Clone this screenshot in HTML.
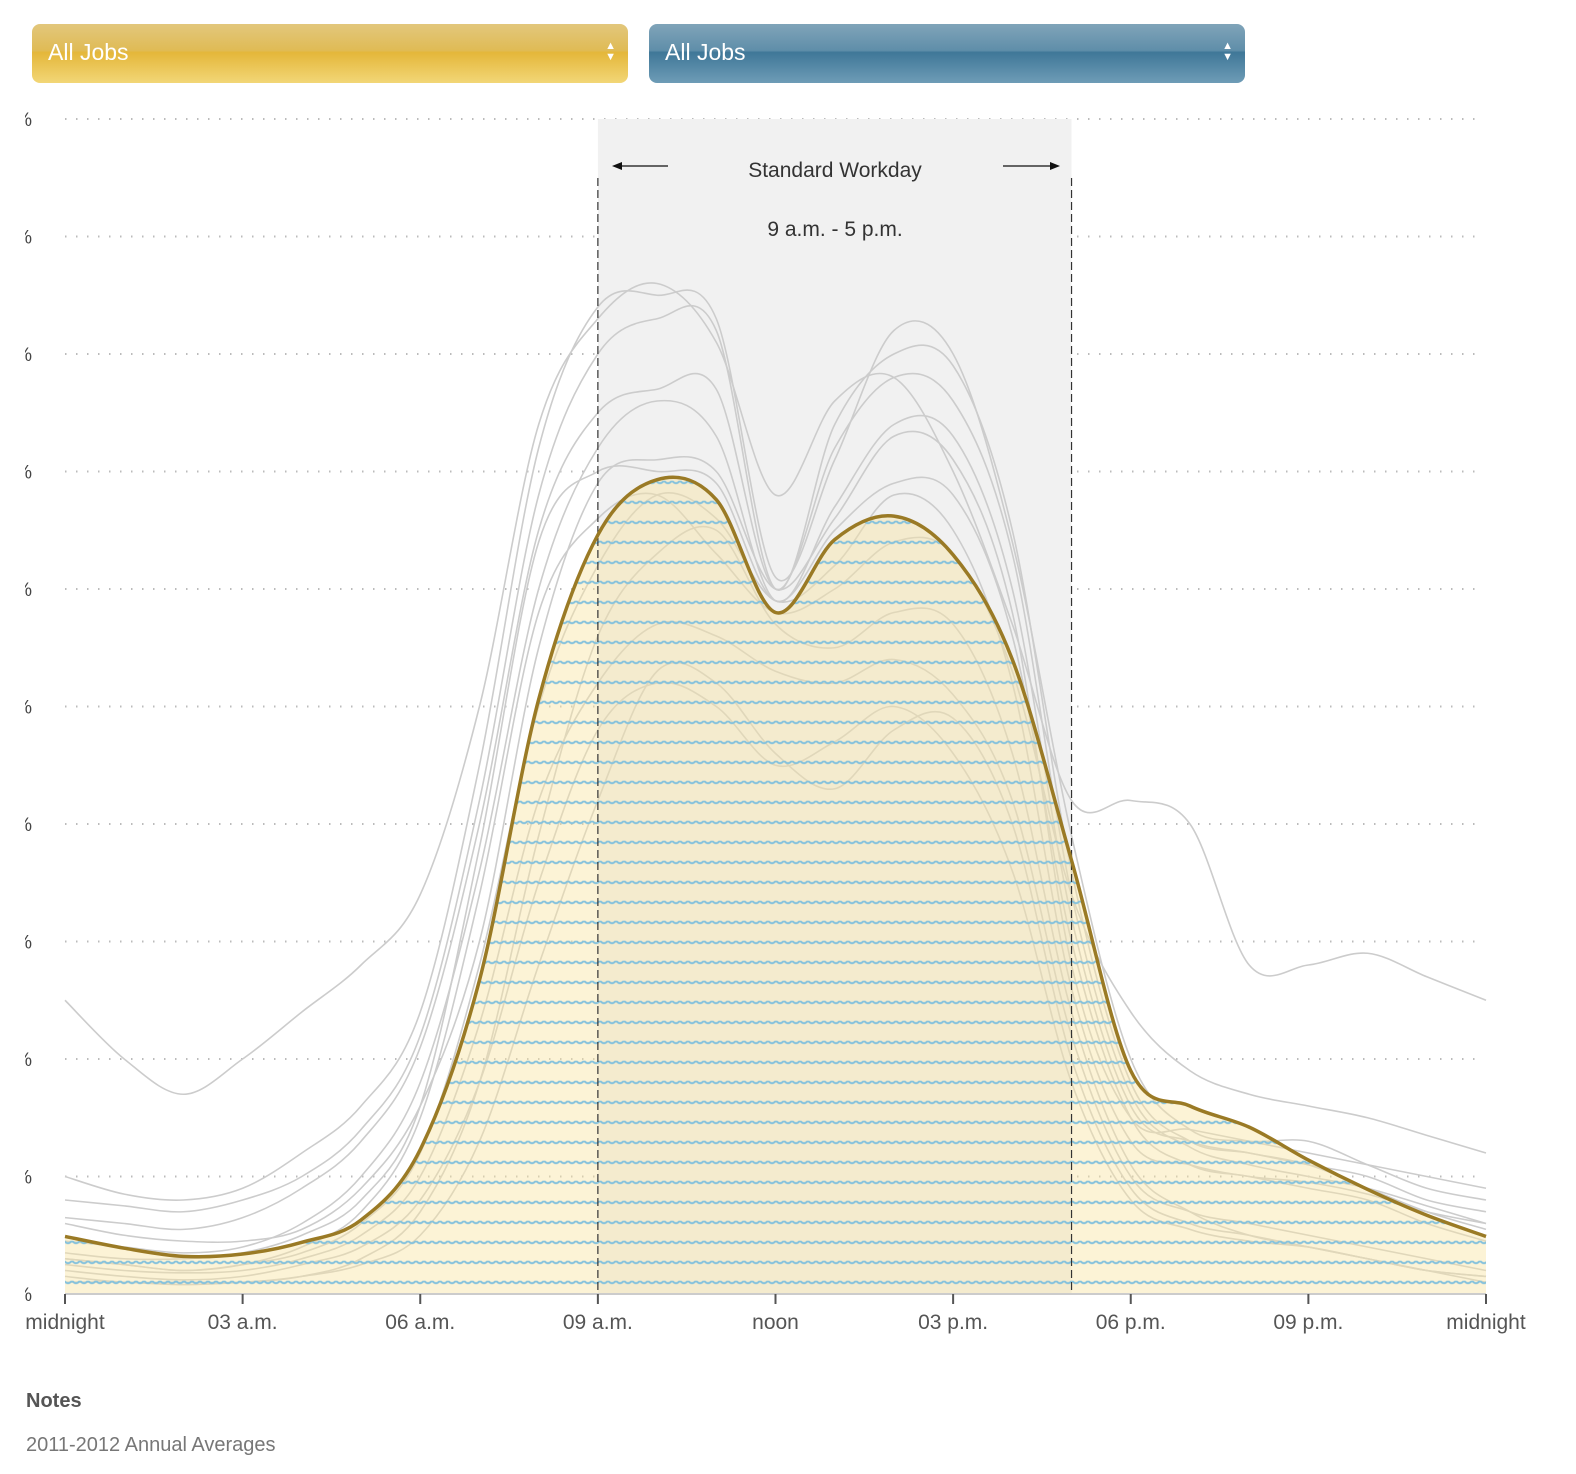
<!DOCTYPE html>
<html><head><meta charset="utf-8">
<style>
body{margin:0;background:#fff;width:1576px;height:1474px;overflow:hidden;font-family:"Liberation Sans",sans-serif;}
.dd{position:absolute;top:24px;height:59px;width:596px;border-radius:8px;color:#fff;font-size:23px;box-sizing:border-box;padding:15px 16px;}
#dd1{left:32px;background:linear-gradient(#e2c77c 0%,#e0bb55 45%,#e4b73a 48%,#f2d677 100%);}
#dd2{left:649px;background:linear-gradient(#80a4b9 0%,#5f8ea9 45%,#3f7798 48%,#6e9cb6 100%);}
.arr{position:absolute;right:12px;top:17px;font-size:11px;line-height:11px;}
</style></head><body>
<div id="dd1" class="dd">All Jobs<div class="arr">▲<br>▼</div></div>
<div id="dd2" class="dd">All Jobs<div class="arr">▲<br>▼</div></div>
<svg id="chart" width="1576" height="1474" style="position:absolute;left:0;top:0" xmlns="http://www.w3.org/2000/svg">
<defs>
<pattern id="waves" patternUnits="userSpaceOnUse" x="0" y="0.7" width="16" height="20">
<path d="M0 0 Q4 5 8 0 Q12 5 16 0" fill="none" stroke="#86c2dc" stroke-width="2"/>
</pattern>
<clipPath id="areaClip"><path id="clipPathEl"/></clipPath>
<clipPath id="leftClip"><rect x="25" y="0" width="1576" height="1474"/></clipPath>
</defs>
<g id="grid"></g>
<g id="ylabels" clip-path="url(#leftClip)"></g>
<rect id="band" fill="#f1f1f1"/>
<g id="gray"></g>
<path id="area" fill="rgba(248,228,165,0.45)"/>
<rect id="waveRect" x="0" y="0" width="1576" height="1474" fill="url(#waves)" clip-path="url(#areaClip)"/>
<g id="dashes"></g>
<path id="mainLine" fill="none" stroke="#9a7a25" stroke-width="3.5"/>
<g id="axis" clip-path="url(#leftClip)"></g>
<text x="835" y="177" text-anchor="middle" font-size="21" fill="#333">Standard Workday</text>
<text x="835" y="236" text-anchor="middle" font-size="21" fill="#333">9 a.m. - 5 p.m.</text>
<g><line x1="616" y1="166" x2="668" y2="166" stroke="#111" stroke-width="1.3"/><path d="M612 166 L622 162 L622 170 Z" fill="#111"/></g>
<g><line x1="1003" y1="166" x2="1055" y2="166" stroke="#111" stroke-width="1.3"/><path d="M1060 166 L1050 162 L1050 170 Z" fill="#111"/></g>
<text x="26" y="1407" font-size="20" font-weight="bold" fill="#555">Notes</text>
<text x="26" y="1451" font-size="20" fill="#777">2011-2012 Annual Averages</text>
</svg>
<script>
const hours=[0,1,2,3,4,5,6,7,8,9,10,11,12,13,14,15,16,17,18,19,20,21,22,23,24];
const yTicks=[0,1,2,3,4,5,6,7,8,9,10];
const xTickHours=[0,3,6,9,12,15,18,21,24];
const xTickLabels=["midnight","03 a.m.","06 a.m.","09 a.m.","noon","03 p.m.","06 p.m.","09 p.m.","midnight"];
const mainSeries=[0.49,0.39,0.32,0.34,0.44,0.63,1.23,2.67,5.06,6.46,6.93,6.76,5.8,6.42,6.62,6.29,5.4,3.69,1.9,1.6,1.42,1.14,0.89,0.67,0.49];
const g1=[2.5,2.0,1.7,2.0,2.4,2.8,3.4,5.0,7.4,8.3,8.6,8.1,6.8,7.6,7.8,7.0,5.7,4.2,4.2,4.0,2.8,2.8,2.9,2.7,2.5];
const g2=[1.0,0.85,0.8,0.9,1.2,1.6,2.4,4.5,7.2,8.4,8.5,8.3,6.1,7.1,8.2,8.0,6.4,3.9,2.0,1.4,1.3,1.3,1.1,0.9,0.8];
const g3=[0.8,0.75,0.7,0.8,1.0,1.4,2.2,4.2,6.8,8.0,8.3,8.2,6.0,7.4,8.0,7.9,6.5,3.6,1.8,1.3,1.2,1.1,1.0,0.8,0.7];
const g4=[0.65,0.6,0.55,0.65,0.9,1.3,2.1,4.0,6.5,7.5,7.7,7.7,6.0,7.2,7.8,7.6,6.3,3.4,1.7,1.25,1.1,1.0,0.9,0.75,0.6];
const g5=[0.45,0.4,0.35,0.4,0.6,1.0,1.8,3.6,6.0,7.2,7.6,7.3,5.9,6.7,7.4,7.3,6.0,3.2,1.6,1.3,1.2,1.1,0.9,0.7,0.55];
const g6=[0.35,0.3,0.3,0.35,0.5,0.8,1.6,3.8,6.4,7.0,7.0,6.9,5.9,6.5,6.9,6.8,5.6,3.0,1.5,1.1,1.0,0.9,0.8,0.6,0.45];
const g7=[0.6,0.5,0.45,0.45,0.55,0.9,1.6,3.0,5.5,6.9,7.1,7.0,6.0,6.6,7.3,7.1,5.8,2.8,1.5,1.4,1.3,1.2,1.1,1.0,0.9];
const g8=[0.3,0.25,0.2,0.25,0.35,0.6,1.2,2.8,5.0,6.2,6.8,6.6,5.9,6.2,6.8,6.5,5.2,2.6,1.3,1.1,1.0,0.95,0.85,0.7,0.6];
const g9=[0.25,0.2,0.18,0.2,0.3,0.5,1.0,2.3,4.2,5.2,5.7,5.6,5.3,5.2,5.4,5.1,4.2,2.2,1.0,0.7,0.6,0.5,0.4,0.3,0.2];
const g10=[0.2,0.15,0.12,0.15,0.25,0.4,0.8,1.8,3.5,4.8,5.2,5.0,4.5,4.7,5.0,4.6,3.6,1.8,0.8,0.55,0.45,0.4,0.3,0.2,0.15];
const g11=[0.15,0.1,0.1,0.1,0.15,0.25,0.5,1.3,2.8,4.2,5.3,5.2,4.6,4.3,4.8,4.9,4.0,2.0,0.9,0.6,0.5,0.4,0.3,0.2,0.1];
const g12=[0.3,0.25,0.2,0.25,0.4,0.7,1.5,3.4,5.8,6.6,6.8,6.3,5.8,6.0,6.4,6.3,5.3,3.4,2.4,1.9,1.7,1.6,1.5,1.35,1.2];
const g13=[0.1,0.1,0.08,0.1,0.15,0.3,0.7,1.8,3.9,5.6,6.3,6.5,5.7,5.5,5.8,5.7,4.6,2.4,1.1,0.7,0.5,0.4,0.3,0.2,0.15];
const grayList=[g1,g2,g3,g4,g5,g6,g7,g8,g9,g10,g11,g12,g13];

const X0=65,X1=1486,Y0=1294,DY=117.5;
const xs=h=>X0+(X1-X0)*h/24;
const ys=v=>Y0-v*DY;
const NS="http://www.w3.org/2000/svg";
function mk(tag,attrs,parent){const e=document.createElementNS(NS,tag);for(const k in attrs)e.setAttribute(k,attrs[k]);parent.appendChild(e);return e;}
function curve(vals){
  const p=vals.map((v,i)=>[xs(hours[i]),ys(v)]);
  let d="M"+p[0][0]+" "+p[0][1];
  for(let i=0;i<p.length-1;i++){
    const p0=p[Math.max(i-1,0)],p1=p[i],p2=p[i+1],p3=p[Math.min(i+2,p.length-1)];
    const c1=[p1[0]+(p2[0]-p0[0])/6,p1[1]+(p2[1]-p0[1])/6];
    const c2=[p2[0]-(p3[0]-p1[0])/6,p2[1]-(p3[1]-p1[1])/6];
    d+=` C${c1[0]} ${c1[1]} ${c2[0]} ${c2[1]} ${p2[0]} ${p2[1]}`;
  }
  return d;
}
const grid=document.getElementById('grid');
const ylabels=document.getElementById('ylabels');
yTicks.forEach(t=>{
  if(t>0){const l=mk('line',{x1:X0,x2:1478,y1:ys(t),y2:ys(t),stroke:'#bbb','stroke-width':2,'stroke-dasharray':'1.5 9.5'},grid);
  }
  const tx=mk('text',{x:32,y:ys(t)+7,'text-anchor':'end','font-size':19,fill:'#444'},ylabels);
  
  
  tx.textContent='%';
});
const band=document.getElementById('band');
band.setAttribute('x',xs(9));band.setAttribute('width',xs(17)-xs(9));band.setAttribute('y',ys(10));band.setAttribute('height',Y0-ys(10));
const gray=document.getElementById('gray');
grayList.forEach(s=>{const p=mk('path',{d:curve(s),fill:'none',stroke:'#ccc','stroke-width':1.6},gray);

});
const md=curve(mainSeries);
const ad=md+` L${xs(24)} ${Y0} L${xs(0)} ${Y0} Z`;
document.getElementById('area').setAttribute('d',ad);
document.getElementById('clipPathEl').setAttribute('d',ad);
document.getElementById('mainLine').setAttribute('d',md);
const dashes=document.getElementById('dashes');
[9,17].forEach(h=>{const l=mk('line',{x1:xs(h),x2:xs(h),y1:178,y2:Y0,stroke:'#333','stroke-width':1.2,'stroke-dasharray':'8 4'},dashes);

});
const axis=document.getElementById('axis');
const al=mk('line',{x1:X0,x2:X1,y1:Y0,y2:Y0,stroke:'#ccc','stroke-width':2},axis);


xTickHours.forEach((h,i)=>{
  const t=mk('line',{x1:xs(h),x2:xs(h),y1:Y0,y2:Y0+10,stroke:'#555','stroke-width':2},axis);
  
  
  const tx=mk('text',{x:xs(h),y:1329,'text-anchor':'middle','font-size':21,fill:'#555'},axis);
  
  
  tx.textContent=xTickLabels[i];
});
</script>
</body></html>
